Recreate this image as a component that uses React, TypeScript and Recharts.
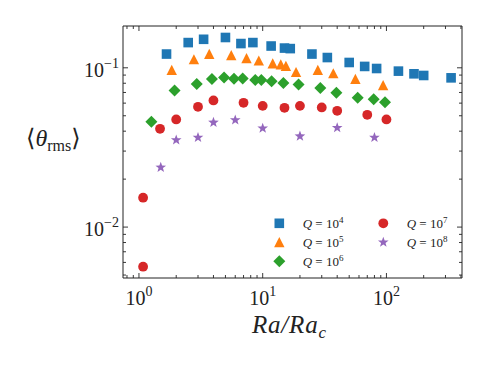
import { ReferenceArea, Scatter, ScatterChart, XAxis, YAxis } from 'recharts';

const W = 488;
const H = 366;
const PL = 123;
const PR = 462;
const PT = 26;
const PB = 278;

const xDomain: [number, number] = [0.743, 408];
const yDomain: [number, number] = [0.00479, 0.183];

const xMajor = [1, 10, 100];
const xTicks = [0.8, 0.9, 1, 2, 3, 4, 5, 6, 7, 8, 9, 10, 20, 30, 40, 50, 60, 70, 80, 90, 100, 200, 300, 400];
const yMajor = [0.01, 0.1];
const yTicks = [0.005, 0.006, 0.007, 0.008, 0.009, 0.01, 0.02, 0.03, 0.04, 0.05, 0.06, 0.07, 0.08, 0.09, 0.1];

// Q = 1e4
const q4X = [1.67, 2.5, 3.33, 5, 6.67, 8.33, 11.7, 15, 16.7, 25, 33.3, 50, 66.7, 83.3, 125, 167, 200, 333];
const q4Y = [0.122, 0.144, 0.151, 0.155, 0.142, 0.144, 0.137, 0.133, 0.132, 0.122, 0.116, 0.108, 0.102, 0.099, 0.0953, 0.0917, 0.0895, 0.0865];
// Q = 1e5
const q5X = [1.84, 2.78, 3.7, 5.57, 7.4, 9.3, 12.05, 14.0, 15.4, 18.6, 27.9, 37.2, 56.1, 94];
const q5Y = [0.0968, 0.113, 0.122, 0.12, 0.115, 0.111, 0.1066, 0.105, 0.1026, 0.094, 0.0968, 0.0923, 0.085, 0.0778];
// Q = 1e6
const q6X = [1.26, 1.94, 2.93, 3.89, 4.87, 5.86, 6.89, 8.71, 9.74, 11.8, 14.7, 19.5, 29.2, 39.4, 58.6, 78.9, 97.4];
const q6Y = [0.0458, 0.0721, 0.079, 0.085, 0.087, 0.0853, 0.0858, 0.0837, 0.0837, 0.0822, 0.0802, 0.0786, 0.0746, 0.0697, 0.0648, 0.0634, 0.0607];
// Q = 1e7
const q7X = [1.08, 1.08, 1.48, 2, 3, 4, 7, 10, 15, 20, 30, 40, 70, 100];
const q7Y = [0.0153, 0.00564, 0.0414, 0.0474, 0.0569, 0.0624, 0.0603, 0.0577, 0.0561, 0.0577, 0.0564, 0.0537, 0.0507, 0.0474];
// Q = 1e8
const q8X = [1.5, 2, 3, 4, 6, 10, 20, 40, 80];
const q8Y = [0.0237, 0.0352, 0.0365, 0.0454, 0.047, 0.0417, 0.0372, 0.042, 0.0365];

const serif = '"Liberation Serif", "DejaVu Serif", serif';
const ink = '#222';

type Kind = 'square' | 'triangle' | 'diamond' | 'circle' | 'star';

function Marker({ kind, cx, cy, color }: { kind: Kind; cx: number; cy: number; color: string }) {
  if (kind === 'square') return <rect x={cx - 4.8} y={cy - 4.8} width={9.6} height={9.6} fill={color} />;
  if (kind === 'circle') return <circle cx={cx} cy={cy} r={4.9} fill={color} />;
  if (kind === 'triangle')
    return <polygon points={`${cx},${cy - 5.2} ${cx + 5.2},${cy + 5} ${cx - 5.2},${cy + 5}`} fill={color} />;
  if (kind === 'diamond')
    return <polygon points={`${cx},${cy - 6} ${cx + 6},${cy} ${cx},${cy + 6} ${cx - 6},${cy}`} fill={color} />;
  const pts: string[] = [];
  for (let i = 0; i < 10; i++) {
    const r = i % 2 === 0 ? 5.6 : 2.3;
    const a = -Math.PI / 2 + (i * Math.PI) / 5;
    pts.push(`${cx + r * Math.cos(a)},${cy + r * Math.sin(a)}`);
  }
  return <polygon points={pts.join(' ')} fill={color} />;
}

const series: { name: string; exp: string; kind: Kind; color: string; xs: number[]; ys: number[] }[] = [
  { name: 'Q4', exp: '4', kind: 'square', color: '#1f77b4', xs: q4X, ys: q4Y },
  { name: 'Q5', exp: '5', kind: 'triangle', color: '#ff7f0e', xs: q5X, ys: q5Y },
  { name: 'Q6', exp: '6', kind: 'diamond', color: '#2ca02c', xs: q6X, ys: q6Y },
  { name: 'Q7', exp: '7', kind: 'circle', color: '#d62728', xs: q7X, ys: q7Y },
  { name: 'Q8', exp: '8', kind: 'star', color: '#9467bd', xs: q8X, ys: q8Y },
];

const XTick = (props: any) => {
  const { x, payload } = props;
  const v = payload.value as number;
  const major = xMajor.includes(v);
  const len = major ? 5 : 3;
  return (
    <g>
      <line x1={x} x2={x} y1={PB} y2={PB - len} stroke={ink} strokeWidth={0.9} />
      <line x1={x} x2={x} y1={PT} y2={PT + len} stroke={ink} strokeWidth={0.9} />
      {major && (
        <text x={x} y={PB + 27} textAnchor="middle" fontFamily={serif} fontSize={20} fill={ink}>
          10<tspan dy={-9} fontSize={14}>{Math.round(Math.log10(v))}</tspan>
        </text>
      )}
    </g>
  );
};

const YTick = (props: any) => {
  const { y, payload } = props;
  const v = payload.value as number;
  const major = yMajor.includes(v);
  const len = major ? 5 : 3;
  return (
    <g>
      <line x1={PL} x2={PL + len} y1={y} y2={y} stroke={ink} strokeWidth={0.9} />
      <line x1={PR} x2={PR - len} y1={y} y2={y} stroke={ink} strokeWidth={0.9} />
      {major && (
        <text x={119} y={y + 9} textAnchor="end" fontFamily={serif} fontSize={20} fill={ink}>
          10<tspan dy={-9} fontSize={14}>{'\u2212' + Math.round(-Math.log10(v))}</tspan>
        </text>
      )}
    </g>
  );
};

const legendPos = [
  { col: 0, row: 0 },
  { col: 0, row: 1 },
  { col: 0, row: 2 },
  { col: 1, row: 0 },
  { col: 1, row: 1 },
];

const LegendBox = () => (
  <svg width={215} height={62} style={{ display: 'block' }}>
    {series.map((s, i) => {
      const p = legendPos[i];
      const mx = 11.3 + p.col * 104;
      const my = 11.3 + p.row * 19;
      return (
        <g key={s.name}>
          <Marker kind={s.kind} cx={mx} cy={my} color={s.color} />
          <text x={mx + 23.4} y={my + 4.5} fontFamily={serif} fontSize={13} fill={ink}>
            <tspan fontStyle="italic">Q</tspan> = 10
            <tspan dy={-5} fontSize={9}>{s.exp}</tspan>
          </text>
        </g>
      );
    })}
  </svg>
);

export default function App() {
  return (
    <div style={{ position: 'absolute', left: 0, top: 0, width: W, height: H, background: '#fff' }}>
      <ScatterChart
        width={W}
        height={H}
        margin={{ top: PT, right: W - PR, bottom: H - PB - 30, left: PL - 60 }}
      >
        <XAxis
          dataKey="x"
          type="number"
          scale="log"
          domain={xDomain}
          allowDataOverflow
          ticks={xTicks}
          interval={0}
          tickSize={0}
          tickMargin={0}
          axisLine={false}
          height={30}
          tick={<XTick />}
        />
        <YAxis
          dataKey="y"
          type="number"
          scale="log"
          domain={yDomain}
          allowDataOverflow
          ticks={yTicks}
          interval={0}
          tickSize={0}
          tickMargin={0}
          axisLine={false}
          width={60}
          tick={<YTick />}
        />
        <ReferenceArea
          x1={xDomain[0]}
          x2={xDomain[1]}
          y1={yDomain[0]}
          y2={yDomain[1]}
          fill="none"
          fillOpacity={0}
          stroke={ink}
          strokeWidth={1}
          ifOverflow="visible"
        />
        {series.map((s) => (
          <Scatter
            key={s.name}
            name={s.name}
            data={s.xs.map((x, i) => ({ x, y: s.ys[i] }))}
            isAnimationActive={false}
            shape={(p: any) => <Marker kind={s.kind} cx={p.cx} cy={p.cy} color={s.color} />}
          />
        ))}
      </ScatterChart>
      <div style={{ position: 'absolute', left: 268, top: 212 }}>
        <LegendBox />
      </div>
      <div
        style={{
          position: 'absolute',
          left: 26,
          top: 124,
          fontFamily: serif,
          fontSize: 24,
          color: ink,
          whiteSpace: 'nowrap',
        }}
      >
        ⟨<i>θ</i>
        <span style={{ fontSize: 16, position: 'relative', top: 5 }}>rms</span>⟩
      </div>
      <div
        style={{
          position: 'absolute',
          left: 252,
          top: 311,
          fontFamily: serif,
          fontSize: 25,
          letterSpacing: 0.8,
          color: ink,
          whiteSpace: 'nowrap',
          fontStyle: 'italic',
        }}
      >
        Ra/Ra<span style={{ fontSize: 17, position: 'relative', top: 5 }}>c</span>
      </div>
    </div>
  );
}
